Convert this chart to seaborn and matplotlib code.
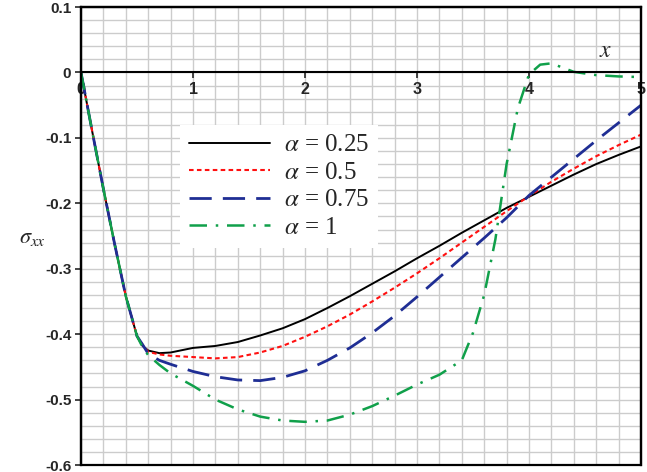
import matplotlib
matplotlib.use('Agg')
import matplotlib.pyplot as plt
import seaborn as sns
from matplotlib.patches import Rectangle
from matplotlib.ticker import MultipleLocator, FixedLocator

# x positions sampled along the curves
x_main = [0, 0.1, 0.2, 0.3, 0.4, 0.5, 0.55, 0.6, 0.7, 0.8, 1.0, 1.2, 1.4, 1.6, 1.8,
          2.0, 2.2, 2.4, 2.6, 2.8, 3.0, 3.2, 3.4, 3.6, 3.8, 4.0, 4.2, 4.4, 4.6, 4.8, 5.0]

sxx_025 = [0, -0.09, -0.178, -0.262, -0.342, -0.403, -0.418, -0.425, -0.429, -0.428,
           -0.421, -0.418, -0.412, -0.402, -0.391, -0.377, -0.360, -0.342, -0.323,
           -0.304, -0.284, -0.265, -0.245, -0.226, -0.207, -0.190, -0.173, -0.156,
           -0.140, -0.126, -0.113]
sxx_05 = [0, -0.09, -0.178, -0.262, -0.342, -0.403, -0.416, -0.427, -0.431, -0.433,
          -0.435, -0.437, -0.435, -0.428, -0.418, -0.404, -0.388, -0.370, -0.350,
          -0.329, -0.307, -0.284, -0.260, -0.236, -0.212, -0.189, -0.167, -0.147,
          -0.128, -0.111, -0.095]
sxx_075 = [0, -0.09, -0.178, -0.262, -0.342, -0.403, -0.416, -0.430, -0.440, -0.446,
           -0.457, -0.465, -0.470, -0.471, -0.466, -0.456, -0.440, -0.421, -0.398,
           -0.372, -0.343, -0.313, -0.283, -0.253, -0.222, -0.188, -0.160, -0.132,
           -0.104, -0.077, -0.050]

x_green = [0, 0.1, 0.2, 0.3, 0.4, 0.5, 0.55, 0.6, 0.7, 0.8, 1.0, 1.2, 1.4, 1.6, 1.8,
           2.0, 2.2, 2.4, 2.6, 2.8, 3.0, 3.2, 3.4, 3.5, 3.6, 3.7, 3.8, 3.9, 4.0, 4.1,
           4.2, 4.4, 4.6, 4.8, 5.0]
sxx_1 = [0, -0.09, -0.178, -0.262, -0.342, -0.403, -0.420, -0.432, -0.447, -0.460,
         -0.479, -0.500, -0.515, -0.526, -0.532, -0.534, -0.532, -0.523, -0.510,
         -0.494, -0.477, -0.462, -0.440, -0.398, -0.340, -0.255, -0.140, -0.055,
         -0.003, 0.012, 0.014, 0.001, -0.004, -0.006, -0.007]

labels = [r'$\alpha$ = 0.25', r'$\alpha$ = 0.5', r'$\alpha$ = 0.75', r'$\alpha$ = 1']
xtick_vals = [0, 1, 2, 3, 4, 5]
ytick_vals = [0.1, 0, -0.1, -0.2, -0.3, -0.4, -0.5, -0.6]

sns.set_style('white')
plt.rcParams['font.family'] = ['Liberation Sans', 'DejaVu Sans']
plt.rcParams['mathtext.fontset'] = 'stix'

fig = plt.figure(figsize=(6.47, 4.72), dpi=100)
ax = fig.add_axes([0.1252, 0.0148, 0.8655, 0.9702])

sns.lineplot(x=x_main, y=sxx_025, ax=ax, color='black', lw=1.4, label=labels[0])
sns.lineplot(x=x_main, y=sxx_05, ax=ax, color='#ff1010', lw=1.5,
             linestyle=(0, (2.2, 1.6)), label=labels[1])
sns.lineplot(x=x_main, y=sxx_075, ax=ax, color='#1f2e94', lw=2.0,
             linestyle=(0, (8, 4)), label=labels[2])
sns.lineplot(x=x_green, y=sxx_1, ax=ax, color='#10a04a', lw=1.8,
             linestyle=(0, (7, 3.5, 1, 3.5)), label=labels[3])

ax.set_xlim(0, 5)
ax.set_ylim(-0.6, 0.1)

# grid: 0.2 in x, 0.02 in y
ax.xaxis.set_major_locator(FixedLocator(xtick_vals))
ax.xaxis.set_minor_locator(MultipleLocator(0.2))
ax.yaxis.set_major_locator(FixedLocator(ytick_vals))
ax.yaxis.set_minor_locator(MultipleLocator(0.02))
ax.grid(which='both', color='#cccccc', lw=1.0)
ax.set_axisbelow(True)
# x axis (labels on the zero line) drawn above the horizontal grid lines
ax.yaxis.set_zorder(0.4)
ax.xaxis.set_zorder(0.6)

# bottom spine becomes the zero line, frame drawn as a box
ax.spines['bottom'].set_position(('data', 0))
for s in ax.spines.values():
    s.set_color('black')
    s.set_linewidth(1.6)
ax.spines['bottom'].set_linewidth(1.5)
ax.add_patch(Rectangle((0, 0), 1, 1, transform=ax.transAxes, fill=False,
                       ec='black', lw=1.6, clip_on=False, zorder=3))

ax.tick_params(axis='x', which='major', bottom=True, length=4, width=1.2,
               direction='out', pad=3)
ax.tick_params(axis='x', which='minor', bottom=False)
ax.tick_params(axis='y', which='major', left=True, length=4, width=1.2, pad=3)
ax.tick_params(axis='y', which='minor', left=False)
ax.set_xticklabels([str(v) for v in xtick_vals], fontsize=11.5, fontweight='bold')
ax.set_yticklabels([f'{v:g}' for v in ytick_vals], fontsize=11, fontweight='bold')

ax.text(0.936, 0.905, r'$x$', transform=ax.transAxes, fontsize=17,
        ha='center', va='center')
ax.set_xlabel('')
ax.set_ylabel(r'$\sigma_{xx}$', rotation=0, fontsize=16)
ax.yaxis.set_label_coords(-0.087, 0.474)

leg = ax.legend(loc='upper left', bbox_to_anchor=(0.177, 0.742),
                prop={'family': 'Liberation Serif', 'size': 18},
                frameon=True, fancybox=False, framealpha=1, facecolor='white',
                edgecolor='none', handlelength=3.25, handletextpad=0.55,
                labelspacing=0.2, borderpad=0.35, borderaxespad=0)

fig.savefig('out.png', dpi=100)
